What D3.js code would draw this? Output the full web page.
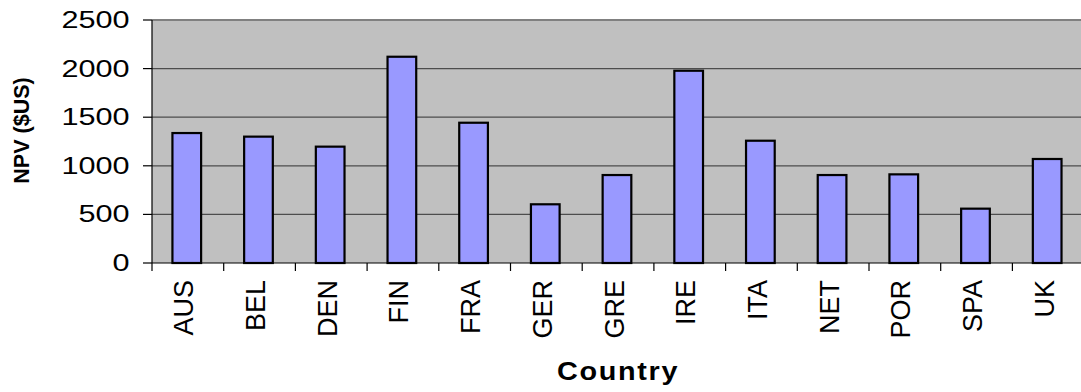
<!DOCTYPE html>
<html>
<head>
<meta charset="utf-8">
<script src="https://cdn.jsdelivr.net/npm/d3@7"></script>
<style>
  body { margin: 0; background: #fff; }
  svg { display: block; font-family: "Liberation Sans", Arial, sans-serif; }
</style>
</head>
<body>
<div id="chart"></div>
<script>
// data
var countries = ["AUS", "BEL", "DEN", "FIN", "FRA", "GER", "GRE", "IRE", "ITA", "NET", "POR", "SPA", "UK"];
var npv = [1337, 1300, 1197, 2122, 1443, 604, 905, 1978, 1258, 905, 912, 559, 1070];
var yTicks = [0, 500, 1000, 1500, 2000, 2500];

var width = 1081, height = 392;
var plotLeft = 152, plotTop = 20, plotBottom = 263;
var bandW = 71.7;

var svg = d3.select("#chart").append("svg")
    .attr("width", width)
    .attr("height", height);

var x = d3.scaleBand()
    .domain(countries)
    .range([plotLeft, plotLeft + countries.length * bandW])
    .padding(0);

var y = d3.scaleLinear()
    .domain([0, 2500])
    .range([plotBottom, plotTop]);

// plot background
svg.append("rect")
    .attr("x", plotLeft)
    .attr("y", plotTop)
    .attr("width", x.range()[1] - plotLeft)
    .attr("height", plotBottom - plotTop)
    .attr("fill", "#c0c0c0");

// gridlines
svg.selectAll("line.grid")
    .data(yTicks.filter(function(d){ return d > 0 && d < 2500; }))
    .enter().append("line")
    .attr("class", "grid")
    .attr("x1", plotLeft)
    .attr("x2", x.range()[1])
    .attr("y1", function(d){ return y(d); })
    .attr("y2", function(d){ return y(d); })
    .attr("stroke", "#4d4d4d")
    .attr("stroke-width", 1.3);

// top border of plot area
svg.append("line")
    .attr("x1", plotLeft).attr("x2", x.range()[1])
    .attr("y1", y(2500)).attr("y2", y(2500))
    .attr("stroke", "#808080")
    .attr("stroke-width", 2);

// bars
svg.selectAll("rect.bar")
    .data(countries)
    .enter().append("rect")
    .attr("class", "bar")
    .attr("x", function(d){ return x(d) + x.bandwidth() * 0.285; })
    .attr("width", x.bandwidth() * 0.4)
    .attr("y", function(d, i){ return y(npv[i]); })
    .attr("height", function(d, i){ return y(0) - y(npv[i]); })
    .attr("fill", "#9999ff")
    .attr("stroke", "#000")
    .attr("stroke-width", 2.2);

// y axis
var yAxis = svg.append("g");
yAxis.append("line")
    .attr("x1", plotLeft).attr("x2", plotLeft)
    .attr("y1", plotTop).attr("y2", plotBottom)
    .attr("stroke", "#000").attr("stroke-width", 1.2);
yAxis.selectAll("line.tick")
    .data(yTicks)
    .enter().append("line")
    .attr("class", "tick")
    .attr("x1", plotLeft - 9).attr("x2", plotLeft)
    .attr("y1", function(d){ return y(d); })
    .attr("y2", function(d){ return y(d); })
    .attr("stroke", "#000").attr("stroke-width", 1.2);
yAxis.selectAll("text")
    .data(yTicks)
    .enter().append("text")
    .attr("transform", function(d){ return "translate(129.5," + (y(d) + 8) + ") scale(1.24,1)"; })
    .attr("text-anchor", "end")
    .attr("font-size", 24.7)
    .attr("fill", "#000")
    .text(function(d){ return d; });

// x axis
var xAxis = svg.append("g");
xAxis.append("line")
    .attr("x1", plotLeft).attr("x2", x.range()[1])
    .attr("y1", plotBottom).attr("y2", plotBottom)
    .attr("stroke", "#000").attr("stroke-width", 1.2);
xAxis.selectAll("line.tick")
    .data(countries)
    .enter().append("line")
    .attr("class", "tick")
    .attr("x1", function(d){ return x(d); })
    .attr("x2", function(d){ return x(d); })
    .attr("y1", plotBottom).attr("y2", plotBottom + 8)
    .attr("stroke", "#000").attr("stroke-width", 1.2);
xAxis.selectAll("text")
    .data(countries)
    .enter().append("text")
    .attr("transform", function(d){
        return "translate(" + (x(d) + x.bandwidth() / 2 + 5.5) + ",280) rotate(-90)";
    })
    .attr("text-anchor", "end")
    .attr("font-size", 27)
    .attr("fill", "#000")
    .text(function(d){ return d; });

// axis titles
svg.append("text")
    .attr("transform", "translate(28.5,130.5) rotate(-90)")
    .attr("text-anchor", "middle")
    .attr("font-size", 21.5)
    .attr("font-weight", "bold")
    .text("NPV ($US)");

svg.append("text")
    .attr("transform", "translate(618,380) scale(1.13,1)")
    .attr("text-anchor", "middle")
    .attr("font-size", 25.5)
    .attr("font-weight", "bold")
    .attr("letter-spacing", 1.5)
    .text("Country");
</script>
</body>
</html>
